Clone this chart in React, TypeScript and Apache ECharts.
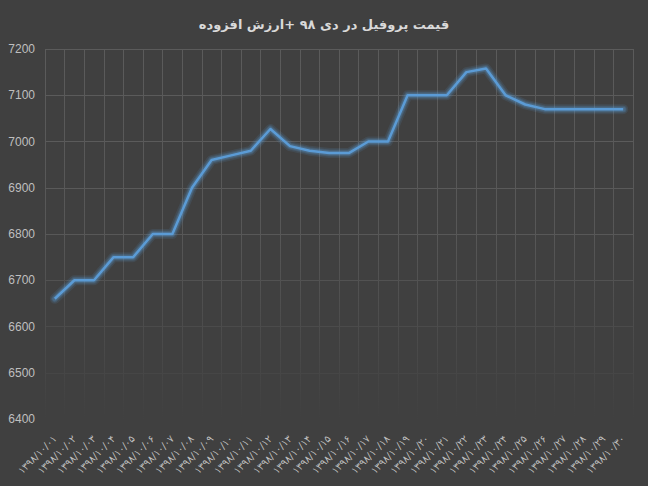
import React, { useEffect, useRef } from "react";
import * as echarts from "echarts";

const titleText = "قیمت پروفیل در دی ۹۸ +ارزش افزوده";
const days = ["۰۱","۰۲","۰۳","۰۴","۰۵","۰۶","۰۷","۰۸","۰۹","۱۰","۱۱","۱۲","۱۳","۱۴","۱۵","۱۶","۱۷","۱۸","۱۹","۲۰","۲۱","۲۲","۲۳","۲۴","۲۵","۲۶","۲۷","۲۸","۲۹","۳۰"];
const categories = days.map((d) => "۱۳۹۸/۱۰/" + d);
const prices = [6660, 6700, 6700, 6750, 6750, 6800, 6800, 6900, 6960, 6970, 6980, 7027, 6990, 6980, 6975, 6975, 7000, 7000, 7100, 7100, 7100, 7150, 7158, 7100, 7080, 7070, 7070, 7070, 7070, 7070];

export default function App() {
  const ref = useRef<HTMLDivElement>(null);
  useEffect(() => {
    const chart = echarts.init(ref.current!, null, { renderer: "svg" });
    const glow = (w: number, a: number) => ({
      type: "line",
      data: prices,
      symbol: "none",
      silent: true,
      z: 1,
      lineStyle: { color: `rgba(91,155,213,${a})`, width: w, cap: "round", join: "round" },
    });
    chart.setOption({
      animation: false,
      backgroundColor: "#404040",
      title: {
        text: titleText,
        left: "center",
        top: 13,
        textStyle: { color: "#d9d9d9", fontSize: 13, fontWeight: "bold", fontFamily: "DejaVu Sans" },
      },
      grid: { left: 45, right: 15, top: 49, bottom: 67, containLabel: false },
      xAxis: {
        type: "category",
        data: categories,
        boundaryGap: true,
        axisLine: { show: false },
        axisTick: { show: false },
        splitLine: {
          show: true,
          lineStyle: {
            width: 1,
            color: new echarts.graphic.LinearGradient(0, 49, 0, 419, [
              { offset: 0, color: "#5b5b5b" },
              { offset: 0.5, color: "#575757" },
              { offset: 0.8, color: "#4a4a4a" },
              { offset: 1, color: "#404040" },
            ], true),
          },
        },
        axisLabel: {
          interval: 0,
          rotate: 45,
          color: "#bfbfbf",
          fontSize: 10,
          fontFamily: "DejaVu Sans",
          margin: 18,
        },
      },
      yAxis: {
        type: "value",
        min: 6400,
        max: 7200,
        interval: 100,
        axisLine: { show: false },
        axisTick: { show: false },
        splitLine: {
          show: true,
          lineStyle: {
            width: 1,
            color: ["#404040", "#464646", "#4b4b4b", "#525252", "#585858", "#5a5a5a", "#5b5b5b", "#5b5b5b", "#5b5b5b"],
          },
        },
        axisLabel: {
          color: "#bfbfbf",
          fontSize: 12,
          fontFamily: "Liberation Sans",
          margin: 10,
          formatter: (v: number) => String(v),
        },
      },
      series: [
        glow(10, 0.12),
        glow(7, 0.18),
        glow(5, 0.25),
        {
          type: "line",
          data: prices,
          symbol: "none",
          z: 3,
          lineStyle: { color: "#5b9bd5", width: 2.5, join: "round" },
        },
      ],
    });
    return () => chart.dispose();
  }, []);
  return (
    <div
      ref={ref}
      style={{ position: "fixed", left: 0, top: 0, width: 648, height: 486 }}
    />
  );
}
